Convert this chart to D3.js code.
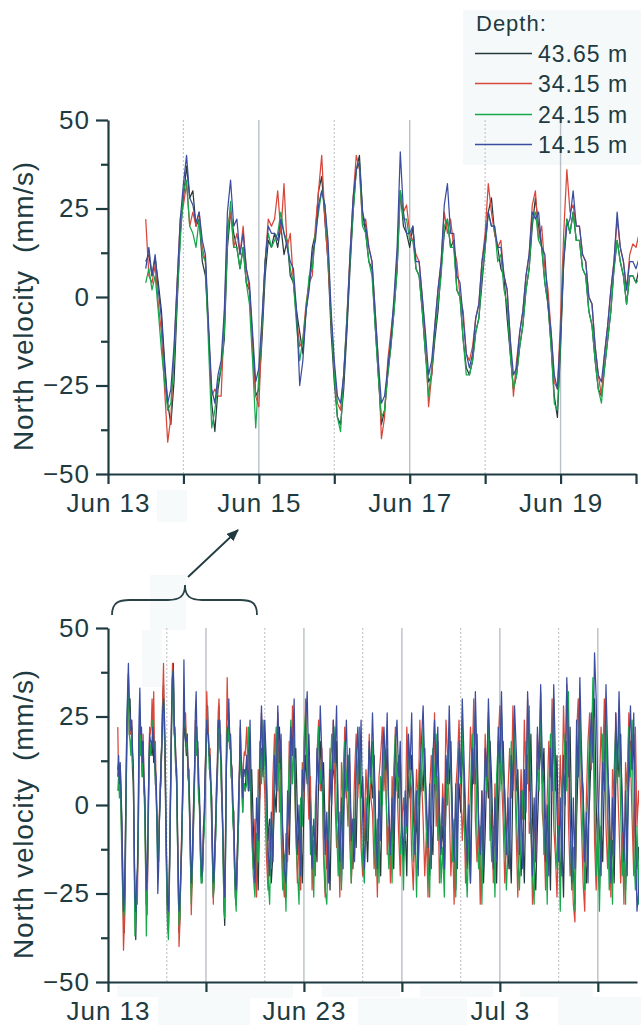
<!DOCTYPE html>
<html>
<head>
<meta charset="utf-8">
<script src="https://cdn.jsdelivr.net/npm/d3@7"></script>
<style>
  html, body { margin: 0; padding: 0; background: #ffffff; }
  svg { display: block; font-family: "Liberation Sans", Arial, sans-serif; }
</style>
</head>
<body>
<svg id="chart" width="641" height="1025"></svg>
<script>
// ---- Current-meter north velocity (mm/s) at four depths ----
const depths = ["43.65 m", "34.15 m", "24.15 m", "14.15 m"];
const colors = ["#26393d", "#d9473a", "#17a84b", "#3a4d9f"];

// first week: hourly samples starting Jun 13 12:00
const week1Start = new Date(2010, 5, 13, 12);
const week1_4365 = [
  10,12,6,11,4,-4,-18,-30,-36,-24,-2,18,
  28,37,28,30,20,22,10,6,-10,-30,-38,-26,
  -20,-12,14,24,18,14,8,14,4,2,-12,-28,
  -26,-12,6,16,14,18,14,20,12,16,6,4,
  -4,-10,-16,-4,4,14,18,30,34,22,10,-10,
  -24,-34,-36,-26,-10,8,24,36,40,24,18,10,
  8,-8,-22,-36,-32,-22,-14,-4,8,30,20,18,
  14,20,8,6,-4,-16,-24,-22,-12,-4,8,18,
  22,14,16,2,0,-12,-20,-22,-18,-10,-6,4,
  14,24,28,18,14,8,6,-6,-16,-26,-22,-14,
  -8,2,8,20,28,20,14,4,-2,-14,-28,-34,
  -14,10,22,18,24,16,16,8,6,-4,-8,-18,
  -26,-28,-20,-12,-4,8,16,10,6,-2,6,6,
  4];
const week1_3415 = [
  22,6,4,9,-2,-10,-26,-41,-34,-16,4,22,
  26,32,20,24,20,24,14,10,-10,-28,-26,-28,
  -28,-6,20,24,14,18,12,20,8,2,-16,-28,
  -31,-8,10,22,20,22,30,18,32,14,18,4,
  -6,-14,-12,-2,4,6,20,30,40,22,10,-6,
  -20,-30,-32,-22,-6,12,28,40,36,20,22,14,
  10,-4,-18,-40,-34,-18,-10,-2,12,30,24,26,
  18,16,12,10,0,-12,-31,-22,-8,2,10,24,
  18,22,14,10,0,-4,-16,-18,-14,-6,-2,10,
  18,32,24,18,14,16,6,2,-12,-28,-18,-10,
  -4,6,12,26,30,16,20,8,2,-10,-24,-26,
  -6,18,36,24,26,20,20,12,10,0,-2,-14,
  -22,-28,-16,-8,2,10,22,14,10,2,12,15,
  14];
const week1_2415 = [
  4,8,2,6,-4,-15,-24,-32,-30,-18,0,16,
  30,33,20,18,14,22,12,10,-14,-37,-32,-24,
  -20,-10,16,27,14,14,8,14,4,-2,-18,-37,
  -22,-8,10,18,14,16,18,24,18,16,8,4,
  -8,-18,-12,-4,6,8,18,24,30,26,14,-6,
  -22,-34,-38,-22,-6,10,24,36,38,20,18,10,
  6,-8,-22,-34,-32,-22,-14,-4,8,30,22,22,
  16,16,8,6,-4,-16,-28,-20,-10,-2,6,20,
  22,14,14,2,0,-12,-22,-22,-18,-10,-6,6,
  14,24,20,20,10,12,2,-2,-16,-26,-22,-14,
  -8,2,8,22,24,16,14,4,-2,-14,-30,-32,
  -12,12,22,18,24,16,16,8,6,-4,-8,-18,
  -26,-30,-20,-12,-4,8,16,10,6,-2,6,6,
  4];
const week1_1415 = [
  8,14,6,12,2,-6,-20,-30,-26,-14,4,22,
  32,40,28,26,21,24,16,12,-8,-26,-30,-22,
  -18,-4,24,33,20,22,12,18,8,4,-10,-24,
  -20,-6,10,20,18,18,16,22,18,14,10,8,
  -4,-25,-18,-4,2,12,16,26,30,26,16,-4,
  -18,-28,-30,-22,-8,12,28,36,38,24,20,14,
  10,-4,-18,-30,-28,-20,-12,0,14,41,24,18,
  18,20,10,10,0,-10,-22,-18,-8,2,10,26,
  32,18,18,6,4,-6,-16,-20,-16,-6,-2,10,
  16,24,20,20,14,14,6,2,-12,-22,-20,-10,
  -4,6,12,24,22,24,14,12,-2,-10,-22,-26,
  -10,10,20,22,30,20,20,12,10,0,-2,-14,
  -22,-24,-16,-8,2,10,24,14,10,2,10,10,
  8];

// remainder of the record: 2-hourly samples starting Jun 20 02:00
const laterStart = new Date(2010, 5, 20, 2);
const later_4365 = [
  12,18,4,10,-6,-20,-12,-24,2,16,8,20,
  6,-10,-4,-22,-14,4,-2,16,22,6,-8,-18,
  -26,-6,-14,8,20,12,16,-2,-14,-6,-22,0,
  14,6,20,2,-10,-20,-8,-16,8,18,4,12,
  -6,-18,-10,-24,2,12,6,18,-4,-12,-22,-6,
  10,2,14,4,-6,-18,-4,-12,10,16,2,8,
  -10,-4,-16,0,8,2,14,-6,-16,-8,-20,4,
  12,6,16,-2,-12,-4,-18,6,12,2,14,-8,
  -16,-6,-20,8,2,14,6,-10,-4,-18,2,10,
  4,16,-2,-10,-20,-6,-14,10,4,18,-2,-12,
  -6,-20,0,14,6,18,-4,-12,-24,-8,6,-2,
  16,8,-6,-18,-10,-22,4,14,6,20,-6,-14,
  -4,-22,-8,10,2,18,6,-14,-6,-22,-2,12,
  6,18,2,-8,-18,-10,-22,8,16,4,10,-10,
  -20,-8,-22,6,14,4,20,-4,-16,-24,-6,8,
  18,6,16,-8,-18,-6,-24,10,18,4,14,-12,
  -20,-10,-26,4,18,8,22,-6,-18,-28,-4,12,
  22,10,4,-14,-22,-8,2,16,22,30,0,-14,
  -24,-6,-16,8,20,10,2,-18,-10,-22,6,16,
  8,20,-4,-16,-24,-8,6,18,10,20,-8,-18,
  -12,-22,2,14,8];
const later_3415 = [
  22,4,14,-8,-18,-4,-26,10,2,26,12,4,
  -14,-24,-6,-18,8,20,6,26,-2,10,-20,-26,
  -8,-16,18,6,28,10,-6,-22,-10,-24,12,2,
  30,12,-4,8,-24,-10,-20,14,24,4,16,-14,
  -26,-10,-4,16,4,24,2,-12,-6,-26,12,0,
  22,6,-6,12,-22,-10,8,20,2,14,-12,-20,
  -6,10,0,20,2,-2,-18,-8,-26,8,14,22,
  4,14,-14,-6,-22,8,-2,22,6,-8,-20,-4,
  2,-10,22,10,4,-14,-24,-4,10,0,24,8,
  -4,-20,-8,-26,4,14,2,26,-6,8,-22,-10,
  6,-6,24,14,0,-20,-8,-28,4,12,24,6,
  -10,2,-22,-8,6,22,10,30,-4,-16,-6,-28,
  4,-8,20,8,26,-10,-2,-22,6,-12,18,28,
  8,-4,-22,-10,4,16,2,28,12,-8,-26,-6,
  10,-4,24,6,30,-8,-4,-28,0,-16,20,10,
  32,-2,-8,-24,2,18,8,30,-6,-14,-26,-4,
  14,-2,28,10,34,-4,-20,-14,-28,-33,20,30,
  8,-6,-22,-30,2,18,26,10,32,-10,-24,-8,
  6,22,10,30,-6,-18,-4,-26,10,2,26,8,
  -6,-22,-8,-28,12,4,26,14,-4,-20,22,-6,
  4,-4,24,10,16];
const later_2415 = [
  6,22,10,-6,-20,-26,-8,-16,18,6,24,12,
  -2,-20,-28,-4,-12,10,22,4,16,-8,-24,-14,
  -30,-2,12,24,6,18,-8,-18,-28,2,-6,18,
  26,8,14,-14,-6,-26,0,10,22,6,12,-10,
  -24,-28,-8,6,20,10,22,-6,-20,-2,-24,10,
  18,4,14,-10,-22,-4,-14,16,6,22,-4,-16,
  -22,2,-10,16,6,18,-6,-20,-4,-22,8,0,
  18,6,-6,-18,-8,-22,10,20,4,14,-14,-6,
  -24,2,-8,18,8,4,-16,-6,-26,0,12,4,
  22,6,-8,-16,-26,2,16,6,20,-10,-2,-22,
  -12,-26,8,0,22,10,-16,-4,-26,4,16,6,
  24,-4,-14,-26,-8,4,20,10,26,-8,-18,-6,
  -28,-2,12,4,24,-4,-16,-6,-26,8,18,4,
  26,6,-10,-24,-12,-2,18,6,22,0,-14,-24,
  -8,4,-4,18,6,28,-6,-20,-28,2,12,4,
  28,10,-14,-4,-28,4,20,6,30,-8,-18,-6,
  -30,0,10,20,4,32,-4,-24,-12,-30,16,8,
  30,6,-10,-24,-6,4,22,12,36,6,-20,-4,
  -30,-6,20,8,28,-4,-24,-10,-28,10,22,6,
  26,-2,-20,-8,-28,6,22,8,24,-12,-24,-6,
  -28,6,0,22,10];
const later_1415 = [
  14,4,24,-2,-14,-22,2,-10,12,28,10,24,
  12,-12,-20,-2,-16,14,4,28,12,20,-8,-18,
  -22,4,-6,22,14,30,-2,-14,0,-20,10,4,
  22,32,8,-6,-18,-4,-14,16,6,28,14,2,
  -14,-2,-22,10,0,24,12,28,-4,-16,2,-18,
  12,24,4,16,-10,-4,-16,10,22,6,24,-4,
  -18,-6,2,18,8,26,10,-8,-18,4,-10,12,
  22,10,26,-4,-14,2,-10,16,24,8,18,-6,
  -14,4,-6,20,10,26,-2,-14,4,-20,10,18,
  28,10,2,-12,6,-18,14,24,8,22,-6,-14,
  2,-18,14,6,28,10,-4,-16,6,-18,18,8,
  30,14,-2,-16,0,-22,16,6,32,12,-4,-14,
  4,-18,16,8,30,14,-6,-18,2,-16,22,12,
  32,10,4,-14,2,-18,14,4,28,16,2,-14,
  4,-18,10,-2,32,16,-4,-20,2,-16,22,10,
  34,12,6,-16,0,-20,16,4,34,14,-2,-16,
  2,-20,14,0,36,18,-2,-22,2,-18,24,8,
  36,16,2,-16,-2,-22,14,26,12,43,30,4,
  -8,-20,12,4,34,16,-6,-22,2,-14,26,10,
  32,14,2,-16,4,-20,16,28,10,26,-8,-30,
  -24,-16,18,8,24];

const week1 = [week1_4365, week1_3415, week1_2415, week1_1415];
const later = [later_4365, later_3415, later_2415, later_1415];

// axis tick values
const yTicks = [-50, -37.5, -25, -12.5, 0, 12.5, 25, 37.5, 50];
const yLabelled = [-50, -25, 0, 25, 50];
const topDays = d3.range(0, 8).map(d => new Date(2010, 5, 13 + d));
const topLabelled = [13, 15, 17, 19];
const topSolidGrid = [15, 17, 19].map(d => new Date(2010, 5, d));
const topDottedGrid = [14, 16, 18].map(d => new Date(2010, 5, d));
const botTicks = [0, 5, 10, 15, 20, 25].map(d => new Date(2010, 5, 13 + d));
const botLabelled = [0, 10, 20].map(d => +new Date(2010, 5, 13 + d));
const botSolidGrid = [5, 10, 15, 20, 25].map(d => new Date(2010, 5, 13 + d));
const botDottedGrid = [3, 8, 13, 18, 23].map(d => new Date(2010, 5, 13 + d));

const series = depths.map((depth, k) => ({
  depth,
  color: colors[k],
  points: week1[k].map((v, i) => ({ t: d3.timeHour.offset(week1Start, i), v }))
    .concat(later[k].map((v, j) => ({ t: d3.timeHour.offset(laterStart, 2 * j), v })))
}));

const ink = "#1e3b41";
const svg = d3.select("#chart");
const fmt = d3.timeFormat("%b %-d");

// pale backing panels
const panels = [
  [463, 10, 178, 155], [157, 490, 30, 32],
  [150, 575, 36, 55], [142, 630, 20, 57],
  [117, 985, 103, 12], [158, 997, 92, 28], [220, 985, 73, 13],
  [322, 985, 78, 12], [358, 998, 109, 27], [420, 985, 73, 12],
  [520, 985, 73, 12], [558, 997, 83, 28]
];
svg.append("g").selectAll("rect").data(panels).join("rect")
  .attr("x", d => d[0]).attr("y", d => d[1])
  .attr("width", d => d[2]).attr("height", d => d[3])
  .attr("fill", (d, i) => i === 0 ? "#f5f9fa" : "#f7fafb");

function panel(cfg) {
  const x = d3.scaleTime().domain(cfg.xDomain).range([108, cfg.xRight]);
  const y = d3.scaleLinear().domain([-50, 50]).range([cfg.yBottom, cfg.yTop]);
  const g = svg.append("g");

  // gridlines
  g.append("g").selectAll("line").data(cfg.solid).join("line")
    .attr("x1", d => x(d)).attr("x2", d => x(d))
    .attr("y1", cfg.yTop).attr("y2", cfg.yBottom)
    .attr("stroke", "#b9c0c6").attr("stroke-width", 1.4);
  g.append("g").selectAll("line").data(cfg.dotted).join("line")
    .attr("x1", d => x(d)).attr("x2", d => x(d))
    .attr("y1", cfg.yTop).attr("y2", cfg.yBottom)
    .attr("stroke", "#c4c8cc").attr("stroke-width", 1.2)
    .attr("stroke-dasharray", "2,2");

  // data lines
  const clipId = "clip" + cfg.id;
  svg.append("clipPath").attr("id", clipId).append("rect")
    .attr("x", 108).attr("y", cfg.yTop - 10)
    .attr("width", cfg.xRight - 108 + 2).attr("height", cfg.yBottom - cfg.yTop + 20);
  const line = d3.line().x(d => x(d.t)).y(d => y(d.v));
  g.append("g").attr("clip-path", `url(#${clipId})`)
    .selectAll("path").data(series).join("path")
    .attr("d", d => line(d.points))
    .attr("fill", "none").attr("stroke", d => d.color)
    .attr("stroke-width", 1.25).attr("stroke-linejoin", "round");

  // y axis
  const ya = g.append("g").attr("transform", "translate(108,0)")
    .call(d3.axisLeft(y).tickValues(yTicks).tickSize(12).tickSizeOuter(0).tickPadding(6)
      .tickFormat(d => yLabelled.includes(d) ? d3.format("d")(d) : ""));
  ya.selectAll(".tick").filter(d => !yLabelled.includes(d)).select("line").attr("x2", -7);

  // x axis
  const xa = g.append("g").attr("transform", `translate(0,${cfg.yBottom})`)
    .call(d3.axisBottom(x).tickValues(cfg.ticks).tickSize(10).tickSizeOuter(0).tickPadding(10)
      .tickFormat(d => cfg.isLabelled(d) ? fmt(d) : ""));

  [ya, xa].forEach(a => {
    a.select(".domain").attr("stroke", ink).attr("stroke-width", 2.2);
    a.selectAll(".tick line").attr("stroke", ink).attr("stroke-width", 2.2);
    a.selectAll(".tick text").attr("fill", ink)
      .attr("font-family", "'Liberation Sans', Arial, sans-serif")
      .attr("font-size", 26).attr("letter-spacing", 1);
  });

  // y axis title
  g.append("text")
    .attr("transform", `translate(33,${cfg.titleY}) rotate(-90)`)
    .attr("text-anchor", "middle").attr("fill", ink)
    .attr("font-size", 28).attr("letter-spacing", 0.8)
    .style("white-space", "pre")
    .text("North velocity  (mm/s)");
  return { x, y };
}

panel({
  id: "top", xDomain: [new Date(2010, 5, 13), new Date(2010, 5, 20)], xRight: 636,
  yTop: 120, yBottom: 474, titleY: 306,
  ticks: topDays, isLabelled: d => topLabelled.includes(d.getDate()),
  solid: topSolidGrid, dotted: topDottedGrid
});

panel({
  id: "bottom", xDomain: [new Date(2010, 5, 13), new Date(2010, 6, 10)], xRight: 637,
  yTop: 628, yBottom: 982, titleY: 814,
  ticks: botTicks, isLabelled: d => botLabelled.includes(+d),
  solid: botSolidGrid, dotted: botDottedGrid
});

// bracket marking the first week in the lower panel, with arrow to the upper panel
svg.append("path")
  .attr("d", "M112,615 C112,603 118,600 130,600 L168,600 C180,600 185,596 185,585 C185,596 190,600 202,600 L240,600 C252,600 257,603 257,615")
  .attr("fill", "none").attr("stroke", "#2a4146").attr("stroke-width", 1.8);
svg.append("defs").append("marker")
  .attr("id", "arrowHead").attr("viewBox", "0 0 12 10").attr("refX", 11).attr("refY", 5)
  .attr("markerWidth", 12).attr("markerHeight", 10).attr("markerUnits", "userSpaceOnUse")
  .attr("orient", "auto")
  .append("path").attr("d", "M0,0 L12,5 L0,10 Z").attr("fill", "#1f3a40");
svg.append("line")
  .attr("x1", 188).attr("y1", 577).attr("x2", 238).attr("y2", 530)
  .attr("stroke", "#1f3a40").attr("stroke-width", 1.8)
  .attr("marker-end", "url(#arrowHead)");

// legend
const legendRowY = [53, 83, 114, 144];
const lg = svg.append("g").attr("font-size", 23).attr("fill", ink);
lg.append("text").attr("x", 476).attr("y", 31).attr("font-size", 22)
  .attr("letter-spacing", 1).text("Depth:");
const rows = lg.selectAll("g.row").data(series).join("g").attr("class", "row")
  .attr("transform", (d, i) => `translate(0,${legendRowY[i]})`);
rows.append("line").attr("x1", 475).attr("x2", 532).attr("y1", 0.5).attr("y2", 0.5)
  .attr("stroke", d => d.color).attr("stroke-width", 1.3);
rows.append("text").attr("x", 538).attr("y", 9).attr("letter-spacing", 1)
  .text(d => d.depth);
</script>
</body>
</html>
